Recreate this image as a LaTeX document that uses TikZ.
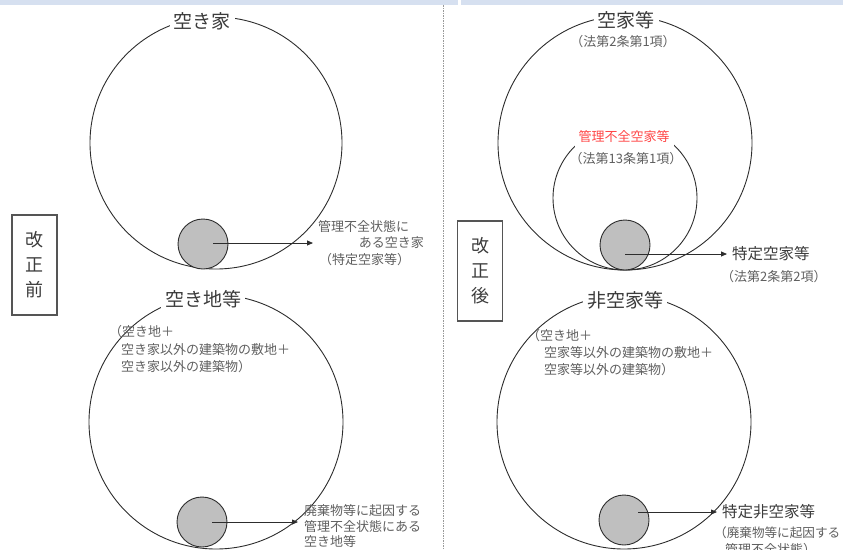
\documentclass[tikz,border=0pt]{standalone}
\usepackage{fontspec}
\newfontfamily\jp{Noto Sans CJK JP}
\usetikzlibrary{arrows.meta}
\definecolor{txt}{RGB}{60,60,60}
\definecolor{stxt}{RGB}{95,95,95}
\definecolor{ln}{RGB}{45,45,45}
\definecolor{band}{RGB}{214,224,240}
\definecolor{dotfill}{RGB}{191,191,191}
\definecolor{redtxt}{RGB}{255,70,70}
\definecolor{boxln}{RGB}{85,85,85}
\begin{document}
\begin{tikzpicture}[x=1pt,y=-1pt,font=\jp,
  circ/.style={draw=ln,line width=0.9pt,circle,inner sep=0pt},
  dot/.style={draw=ln,line width=0.9pt,circle,inner sep=0pt,fill=dotfill,minimum size=50pt},
  ttl/.style={fill=white,inner xsep=4pt,inner ysep=3pt,text=txt,font=\jp\fontsize{19}{19}\selectfont},
  lbl/.style={inner sep=0pt,text=stxt,font=\jp\fontsize{13}{15}\selectfont},
  mid/.style={inner sep=0pt,text=txt,font=\jp\fontsize{15.5}{15.5}\selectfont},
  arr/.style={draw=ln,line width=0.8pt,-{Triangle[length=6pt,width=5pt]}},
  sidebox/.style={draw=boxln,line width=1.1pt,minimum width=45pt,minimum height=100pt,align=center,text=txt,font=\jp\fontsize{18}{25}\selectfont}]
\useasboundingbox (0,0) rectangle (843,549);
% top bands and divider
\fill[band] (0,0) rectangle (458,5);
\fill[band] (461,0) rectangle (843,5);
\draw[gray!80,line width=0.6pt,dash pattern=on 1.5pt off 1pt] (443,5) -- (443,549);

% ===== left (before) =====
\node[circ,minimum size=252pt] (LT) at (216,143) {};
\node[dot] (LTd) at (203,244) {};
\node[ttl] (LTt) at (202,21) {空き家};
\coordinate (LTs) at (213,243);
\coordinate (LTe) at (313,243);
\draw[arr] (LTs) -- (LTe);
\node[lbl,anchor=west] (LTa) at (318,227) {管理不全状態に};
\node[lbl,anchor=east] (LTb) at (424,243) {ある空き家};
\node[lbl,anchor=west] (LTc) at (319,260) {（特定空家等）};

\node[sidebox] (Lbox) at (34.5,265) {改\\正\\前};

\node[circ,minimum size=254pt] (LB) at (216,422) {};
\node[dot] (LBd) at (202,522) {};
\node[ttl] (LBt) at (203,299) {空き地等};
\node[lbl,anchor=west] (LB1) at (109,332) {（空き地＋};
\node[lbl,anchor=west] (LB2) at (121,350) {空き家以外の建築物の敷地＋};
\node[lbl,anchor=west] (LB3) at (121,367) {空き家以外の建築物）};
\coordinate (LBs) at (212,522);
\coordinate (LBe) at (298,522);
\draw[arr] (LBs) -- (LBe);
\node[lbl,anchor=west] (LBa) at (304,511) {廃棄物等に起因する};
\node[lbl,anchor=west] (LBb) at (304,527) {管理不全状態にある};
\node[lbl,anchor=west] (LBc) at (304,542) {空き地等};

% ===== right (after) =====
\node[circ,minimum size=254pt] (RT) at (625,143) {};
\node[circ,minimum size=144pt] (RM) at (625,198) {};
\node[dot] (RTd) at (625,245) {};
\node[ttl] (RTt) at (626,20) {空家等};
\node[lbl] (RTl) at (623,42) {（法第2条第1項）};
\node[fill=white,inner xsep=4pt,inner ysep=6pt,text=redtxt,font=\jp\fontsize{13}{13}\selectfont] (RMt) at (624,137) {管理不全空家等};
\node[lbl] (RMl) at (626,159) {（法第13条第1項）};
\coordinate (RTs) at (625,254);
\coordinate (RTe) at (727,254);
\draw[arr] (RTs) -- (RTe);
\node[mid,anchor=west] (RTa) at (732,254) {特定空家等};
\node[lbl,anchor=west] (RTb) at (721,277) {（法第2条第2項）};

\node[sidebox] (Rbox) at (480,271) {改\\正\\後};

\node[circ,minimum size=254pt] (RB) at (624,422) {};
\node[dot] (RBd) at (624,520) {};
\node[ttl] (RBt) at (625,300) {非空家等};
\node[lbl,anchor=west] (RB1) at (527,336) {（空き地＋};
\node[lbl,anchor=west] (RB2) at (544,353) {空家等以外の建築物の敷地＋};
\node[lbl,anchor=west] (RB3) at (544,370) {空家等以外の建築物）};
\coordinate (RBs) at (638,512);
\coordinate (RBe) at (717,512);
\draw[arr] (RBs) -- (RBe);
\node[mid,anchor=west] (RBa) at (722,512) {特定非空家等};
\node[lbl,anchor=west,font=\jp\fontsize{12.6}{15}\selectfont] (RBb) at (714,533) {（廃棄物等に起因する};
\node[lbl,anchor=west] (RBc) at (725,550) {管理不全状態）};
\end{tikzpicture}
\end{document}
